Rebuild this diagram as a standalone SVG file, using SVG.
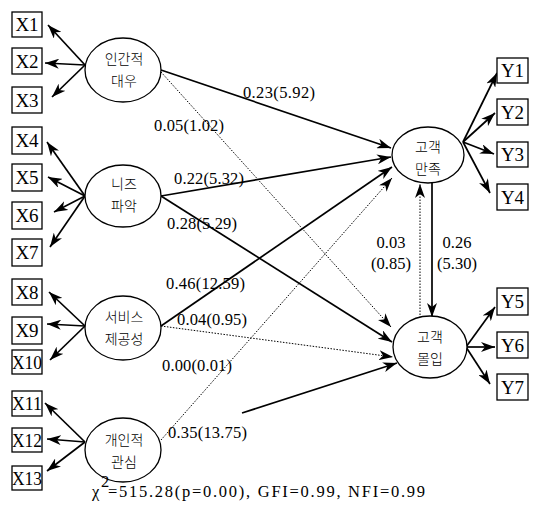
<svg xmlns="http://www.w3.org/2000/svg" width="539" height="506" viewBox="0 0 539 506">
<style>
.box{fill:#fff;stroke:#000;stroke-width:1.3}
.ell{fill:#fff;stroke:#000;stroke-width:1.3}
.bt{font-family:"Liberation Serif","Times New Roman","DejaVu Serif",serif;font-size:19px;fill:#000;text-anchor:middle}
.kt{font-family:"Noto Sans CJK KR",sans-serif;font-size:14px;font-weight:300;fill:#000;text-anchor:middle}
.lb{font-family:"Liberation Serif","Times New Roman","DejaVu Serif",serif;font-size:16.5px;fill:#000}
.s{stroke:#000;stroke-width:1.7;fill:none;marker-end:url(#ah)}
.d{stroke:#000;stroke-width:1;stroke-dasharray:1.5 1.5;fill:none;marker-end:url(#ah)}
</style>
<defs>
<marker id="ah" viewBox="0 0 14 10" refX="14" refY="5" markerWidth="14" markerHeight="10" markerUnits="userSpaceOnUse" orient="auto"><path d="M0,0 L14,5 L0,10 L4,5 z" fill="#000"/></marker>
</defs>
<rect width="539" height="506" fill="#fff"/>
<g id="connectors">
<line class="s" x1="85" y1="65" x2="48" y2="25"/>
<line class="s" x1="85" y1="65" x2="45" y2="63"/>
<line class="s" x1="85" y1="65" x2="52" y2="97"/>
<line class="s" x1="85" y1="196" x2="47" y2="142"/>
<line class="s" x1="85" y1="196" x2="48" y2="177"/>
<line class="s" x1="85" y1="196" x2="54" y2="212"/>
<line class="s" x1="85" y1="196" x2="50" y2="247"/>
<line class="s" x1="85" y1="326" x2="49" y2="292"/>
<line class="s" x1="85" y1="326" x2="47" y2="324"/>
<line class="s" x1="85" y1="326" x2="50" y2="360"/>
<line class="s" x1="85" y1="442" x2="45" y2="403"/>
<line class="s" x1="85" y1="442" x2="47" y2="439"/>
<line class="s" x1="85" y1="442" x2="47" y2="471"/>
<line class="s" x1="463" y1="142" x2="497" y2="73"/>
<line class="s" x1="463" y1="142" x2="495" y2="113"/>
<line class="s" x1="463" y1="142" x2="494" y2="154"/>
<line class="s" x1="463" y1="142" x2="490" y2="193"/>
<line class="s" x1="466" y1="347" x2="495" y2="307"/>
<line class="s" x1="466" y1="347" x2="495" y2="347"/>
<line class="s" x1="466" y1="347" x2="490" y2="384"/>
<line class="s" x1="161" y1="70" x2="391" y2="148"/>
<line class="d" x1="161" y1="72" x2="391" y2="327"/>
<line class="s" x1="161" y1="196" x2="391" y2="157"/>
<line class="s" x1="161" y1="196" x2="392" y2="342"/>
<line class="s" x1="161" y1="326" x2="392" y2="167"/>
<line class="d" x1="161" y1="326" x2="393" y2="357"/>
<line class="d" x1="161" y1="440" x2="392" y2="178"/>
<line class="s" x1="242" y1="413" x2="397" y2="363"/>
<line class="s" x1="432" y1="183" x2="432" y2="317"/>
<line class="d" x1="420" y1="321" x2="420" y2="184"/>
</g>
<g id="X1"><rect class="box" x="12" y="12" width="30" height="25"/><text class="bt" x="27" y="31">X1</text></g>
<g id="X2"><rect class="box" x="12" y="48" width="30" height="26"/><text class="bt" x="27" y="68">X2</text></g>
<g id="X3"><rect class="box" x="12" y="87" width="30" height="26"/><text class="bt" x="27" y="107">X3</text></g>
<g id="X4"><rect class="box" x="12" y="127" width="30" height="27"/><text class="bt" x="27" y="147">X4</text></g>
<g id="X5"><rect class="box" x="12" y="164" width="30" height="27"/><text class="bt" x="27" y="184">X5</text></g>
<g id="X6"><rect class="box" x="12" y="202" width="30" height="27"/><text class="bt" x="27" y="222">X6</text></g>
<g id="X7"><rect class="box" x="12" y="239" width="30" height="27"/><text class="bt" x="27" y="259">X7</text></g>
<g id="X8"><rect class="box" x="12" y="279" width="30" height="26"/><text class="bt" x="27" y="299">X8</text></g>
<g id="X9"><rect class="box" x="12" y="317" width="30" height="27"/><text class="bt" x="27" y="337">X9</text></g>
<g id="X10"><rect class="box" x="12" y="350" width="30" height="24"/><text class="bt" x="27" y="369" textLength="30" lengthAdjust="spacingAndGlyphs">X10</text></g>
<g id="X11"><rect class="box" x="12" y="391" width="30" height="25"/><text class="bt" x="27" y="410" textLength="30" lengthAdjust="spacingAndGlyphs">X11</text></g>
<g id="X12"><rect class="box" x="12" y="428" width="30" height="24"/><text class="bt" x="27" y="447" textLength="30" lengthAdjust="spacingAndGlyphs">X12</text></g>
<g id="X13"><rect class="box" x="12" y="466" width="30" height="24"/><text class="bt" x="27" y="485" textLength="30" lengthAdjust="spacingAndGlyphs">X13</text></g>
<g id="Y1"><rect class="box" x="497" y="58" width="31" height="25"/><text class="bt" x="512.5" y="77">Y1</text></g>
<g id="Y2"><rect class="box" x="497" y="99" width="31" height="26"/><text class="bt" x="512.5" y="119">Y2</text></g>
<g id="Y3"><rect class="box" x="497" y="142" width="31" height="25"/><text class="bt" x="512.5" y="161">Y3</text></g>
<g id="Y4"><rect class="box" x="497" y="184" width="31" height="26"/><text class="bt" x="512.5" y="204">Y4</text></g>
<g id="Y5"><rect class="box" x="497" y="288" width="31" height="27"/><text class="bt" x="512.5" y="308">Y5</text></g>
<g id="Y6"><rect class="box" x="497" y="332" width="31" height="26"/><text class="bt" x="512.5" y="352">Y6</text></g>
<g id="Y7"><rect class="box" x="497" y="374" width="31" height="26"/><text class="bt" x="512.5" y="394">Y7</text></g>
<g id="F1"><ellipse class="ell" cx="123" cy="70" rx="38" ry="32"/><text class="kt" x="124" y="64">인간적</text><text class="kt" x="124" y="86">대우</text></g>
<g id="F2"><ellipse class="ell" cx="123" cy="196" rx="38" ry="31"/><text class="kt" x="124" y="189">니즈</text><text class="kt" x="124" y="211">파악</text></g>
<g id="F3"><ellipse class="ell" cx="123" cy="328" rx="38" ry="32"/><text class="kt" x="124" y="322">서비스</text><text class="kt" x="124" y="344">제공성</text></g>
<g id="F4"><ellipse class="ell" cx="123" cy="450" rx="38" ry="32"/><text class="kt" x="124" y="445">개인적</text><text class="kt" x="124" y="467">관심</text></g>
<g id="S"><ellipse class="ell" cx="428" cy="155" rx="36" ry="28"/><text class="kt" x="428" y="152">고객</text><text class="kt" x="428" y="174">만족</text></g>
<g id="C"><ellipse class="ell" cx="430" cy="347" rx="37" ry="31"/><text class="kt" x="430" y="342">고객</text><text class="kt" x="430" y="364">몰입</text></g>
<g id="labels">
<text class="lb" x="243" y="98" textLength="72">0.23(5.92)</text>
<text class="lb" x="154" y="131" textLength="70">0.05(1.02)</text>
<text class="lb" x="174" y="184" textLength="70">0.22(5.32)</text>
<text class="lb" x="167" y="229" textLength="70">0.28(5.29)</text>
<text class="lb" x="166" y="289" textLength="79">0.46(12.59)</text>
<text class="lb" x="177" y="325" textLength="70">0.04(0.95)</text>
<text class="lb" x="162" y="371" textLength="70">0.00(0.01)</text>
<text class="lb" x="168" y="438" textLength="79">0.35(13.75)</text>
<text class="lb" x="391" y="248" text-anchor="middle">0.03</text>
<text class="lb" x="391" y="269" text-anchor="middle">(0.85)</text>
<text class="lb" x="457" y="248" text-anchor="middle">0.26</text>
<text class="lb" x="457" y="269" text-anchor="middle">(5.30)</text>
<text class="lb" x="92" y="497" font-size="18">χ</text>
<text class="lb" x="101" y="487" font-size="9">2</text>
<text class="lb" x="108" y="497" font-size="18" textLength="317">=515.28(p=0.00),  GFI=0.99,  NFI=0.99</text>
</g>
</svg>
